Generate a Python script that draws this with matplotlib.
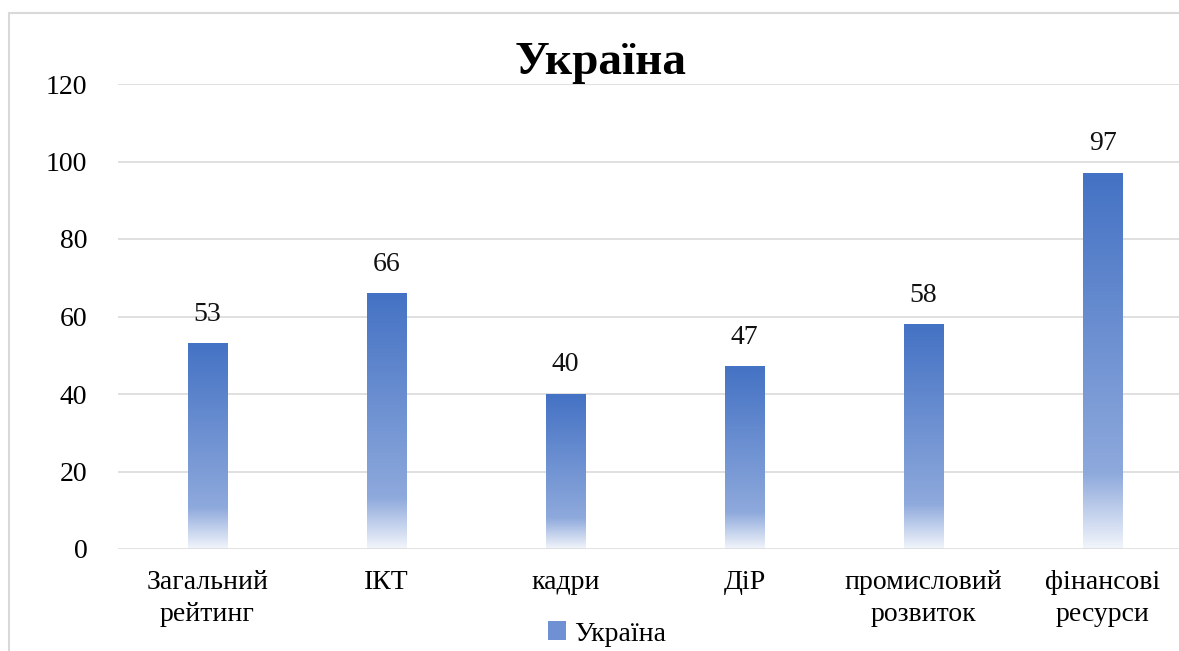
import matplotlib
matplotlib.use("Agg")
import matplotlib.pyplot as plt
import numpy as np
from matplotlib.colors import LinearSegmentedColormap
from matplotlib.patches import Rectangle, Patch

categories = ["Загальний\nрейтинг", "ІКТ", "кадри", "ДіР", "промисловий\nрозвиток", "фінансові\nресурси"]
values = [53, 66, 40, 47, 58, 97]
yticks = [0, 20, 40, 60, 80, 100, 120]
series_name = "Україна"

plt.rcParams['font.family'] = ['Liberation Serif', 'DejaVu Serif']

W, H = 1179, 651
fig = plt.figure(figsize=(W / 100, H / 100), dpi=100)
ax = fig.add_axes([118 / W, (H - 549) / H, 1074 / W, 465 / H])

# gradient: near white at the bottom, blue at the top
cmap = LinearSegmentedColormap.from_list(
    "bargrad", [(0.0, "#F2F5FB"), (0.2, "#8EA9DC"), (1.0, "#4472C4")])
grad = np.linspace(0, 1, 256).reshape(-1, 1)

bw = 0.22
x = np.arange(len(categories))
for xi, v in zip(x, values):
    ax.imshow(grad, cmap=cmap, aspect='auto', origin='lower',
              extent=(xi - bw / 2, xi + bw / 2, 0, v), zorder=2)
    ax.text(xi, v + 4.3, str(v), ha='center', va='bottom', fontsize=20, color='#111111')

ax.set_xlim(-0.5, len(categories) - 0.5)
ax.set_ylim(0, 120)

for t in yticks[1:]:
    ax.axhline(t, color='#DDDDDD', lw=1.3, zorder=1)
ax.axhline(0, color='#D9D9D9', lw=1.8, zorder=3)

for s in ax.spines.values():
    s.set_visible(False)
ax.set_yticks(yticks)
ax.set_xticks(x)
ax.set_xticklabels(categories, fontsize=20, linespacing=1.4)
ax.tick_params(axis='y', length=0, pad=22, labelsize=20)
ax.tick_params(axis='x', length=0, pad=15)

fig.text(601 / W, 1 - 63 / H, "Україна", ha='center', va='center',
         fontsize=34, fontweight='bold')

handle = Patch(facecolor='#6F90D2', edgecolor='none')
fig.legend([handle], [series_name], loc='center',
           bbox_to_anchor=(607 / W, 1 - 634 / H), frameon=False, fontsize=20,
           handlelength=0.65, handleheight=0.65, handletextpad=0.3)

fig.add_artist(Rectangle((9.5 / W, -0.1), 1.2, 1 - 13 / H + 0.1, transform=fig.transFigure,
                         fill=False, ec='#D9D9D9', lw=1.5))

fig.savefig("out.png", dpi=100)
